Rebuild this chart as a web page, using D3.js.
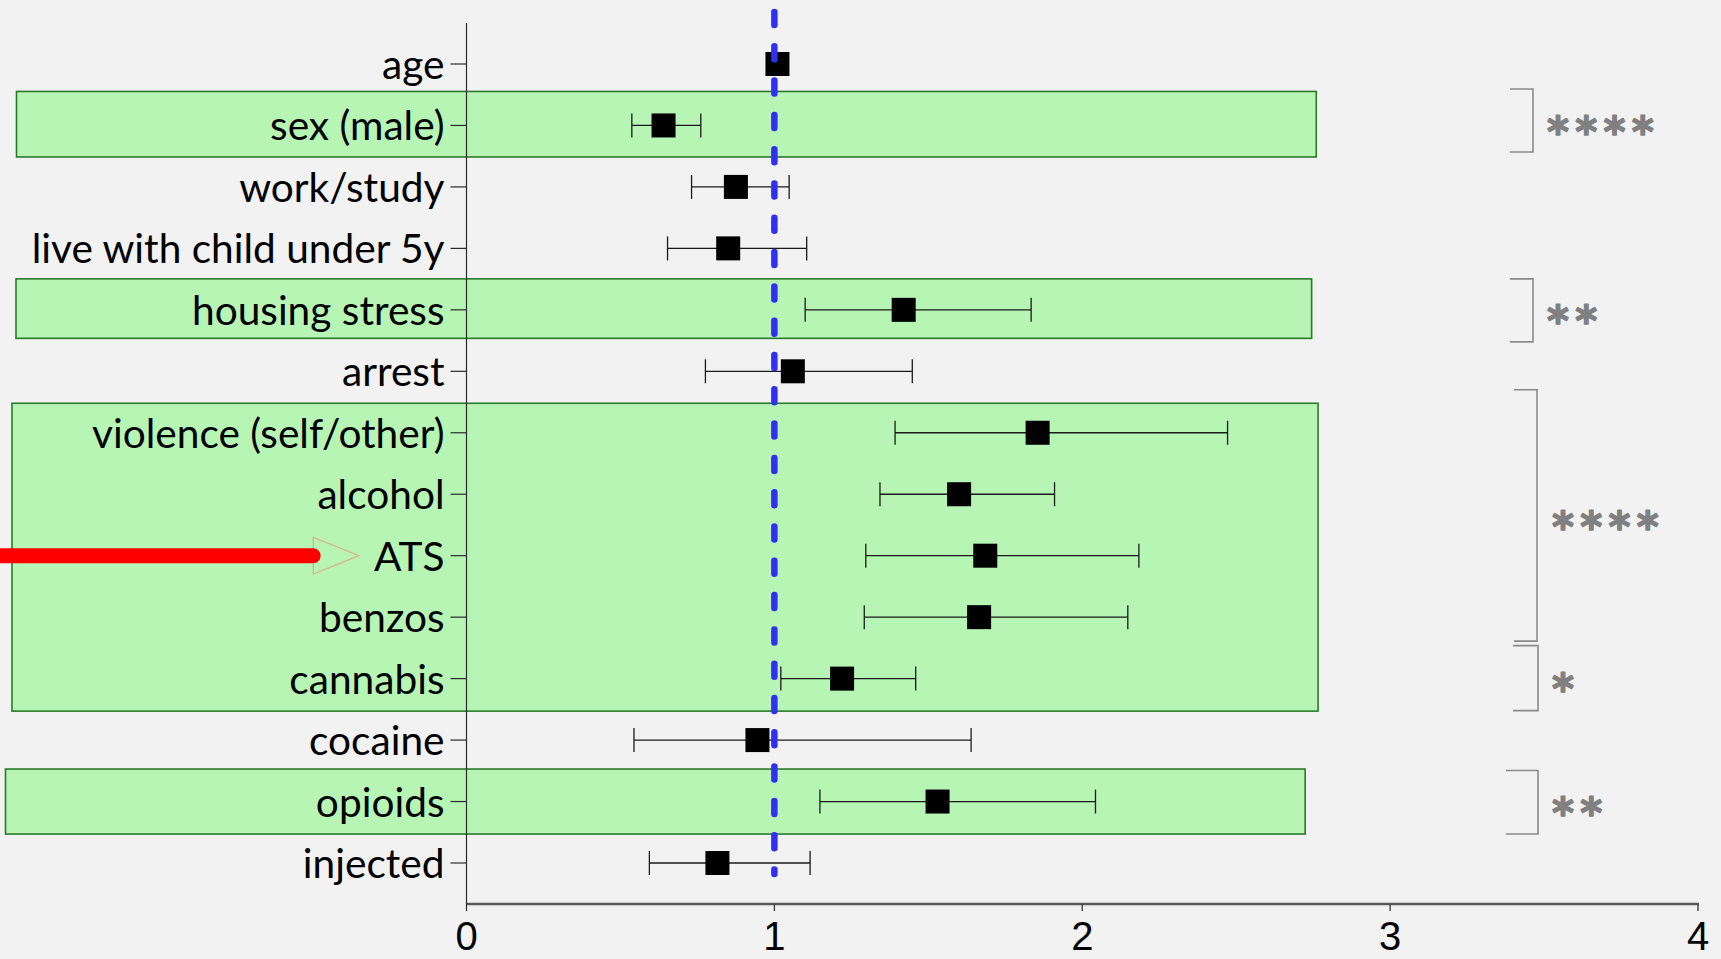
<!DOCTYPE html>
<html>
<head>
<meta charset="utf-8">
<script src="https://cdn.jsdelivr.net/npm/d3@7"></script>
<style>
  html, body { margin: 0; padding: 0; background: #f2f2f2; overflow: hidden; }
  svg { display: block; }
</style>
</head>
<body>
<svg id="chart" width="1721" height="959"></svg>
<script>
// Predictors (top to bottom) with odds ratios and 95% confidence limits
const categories = ["age", "sex (male)", "work/study", "live with child under 5y",
  "housing stress", "arrest", "violence (self/other)", "alcohol", "ATS", "benzos",
  "cannabis", "cocaine", "opioids", "injected"];
const estimates = [1.01, 0.64, 0.875, 0.85, 1.42, 1.06, 1.855, 1.60, 1.685, 1.665, 1.22, 0.945, 1.53, 0.815];
const lower     = [0.99, 0.537, 0.731, 0.653, 1.100, 0.776, 1.392, 1.343, 1.297, 1.292, 1.021, 0.544, 1.148, 0.594];
const upper     = [1.03, 0.761, 1.048, 1.105, 1.834, 1.448, 2.472, 1.910, 2.184, 2.148, 1.459, 1.639, 2.043, 1.116];

const xTicks = [0, 1, 2, 3, 4];
const referenceValue = 1;

// Highlighted predictor blocks
const highlightFrom = ["sex (male)", "housing stress", "violence (self/other)", "opioids"];
const highlightTo   = ["sex (male)", "housing stress", "cannabis", "opioids"];

// Significance brackets
const bracketFrom  = ["sex (male)", "housing stress", "violence (self/other)", "cannabis", "opioids"];
const bracketTo    = ["sex (male)", "housing stress", "benzos", "cannabis", "opioids"];
const bracketStars = ["****", "**", "****", "*", "**"];

// Row pointed at by the arrow
const arrowRow = "ATS";

// ---- layout ----
const svg = d3.select("#chart");
const axisLeft = 466.5, axisRight = 1698, axisY = 904, axisTop = 23;

const x = d3.scaleLinear().domain([0, 4]).range([axisLeft, axisRight]);
const y = d3.scalePoint().domain(categories).range([64, 863]);

// box geometry: left edge (px), right edge (axis units), padding above/below row centres
const boxLayout = [
  { left: 16.5, right: 2.760, padTop: 34, padBottom: 31.5 },
  { left: 16,   right: 2.745, padTop: 31, padBottom: 28.5 },
  { left: 12,   right: 2.766, padTop: 29.5, padBottom: 32.5 },
  { left: 5.5,  right: 2.724, padTop: 32.5, padBottom: 32.5 }
];
// bracket geometry: left/right x (px), extension above/below rows, star text start
const bracketLayout = [
  { x0: 1510, x1: 1533, up: 36.5, down: 26.5, starX: 1547 },
  { x0: 1510, x1: 1533, up: 31,   down: 32,   starX: 1547 },
  { x0: 1514, x1: 1537, up: 43,   down: 24,   starX: 1552 },
  { x0: 1513, x1: 1538, up: 33,   down: 32,   starX: 1552 },
  { x0: 1506, x1: 1538, up: 31,   down: 32.5, starX: 1552 }
];

// ---- highlight boxes ----
const boxes = highlightFrom.map((f, i) => ({ from: f, to: highlightTo[i], ...boxLayout[i] }));
svg.append("g").selectAll("rect").data(boxes).join("rect")
  .attr("x", d => d.left)
  .attr("y", d => y(d.from) - d.padTop)
  .attr("width", d => x(d.right) - d.left)
  .attr("height", d => y(d.to) + d.padBottom - (y(d.from) - d.padTop))
  .attr("fill", "#b6f5b4")
  .attr("stroke", "#2b7a2b")
  .attr("stroke-width", 1.6);

// ---- axes ----
const gx = svg.append("g").attr("transform", `translate(0,${axisY})`);
gx.append("line").attr("x1", axisLeft).attr("x2", axisRight + 1)
  .attr("stroke", "#595959").attr("stroke-width", 2.6);
gx.selectAll("line.tick").data(xTicks.filter(t => t > 0)).join("line")
  .attr("class", "tick")
  .attr("x1", d => x(d)).attr("x2", d => x(d)).attr("y1", 0).attr("y2", 7)
  .attr("stroke", "#444").attr("stroke-width", 1.4);
gx.selectAll("text").data(xTicks).join("text")
  .attr("x", d => x(d)).attr("y", 46)
  .attr("text-anchor", "middle")
  .attr("font-family", "'Liberation Sans', Arial, sans-serif")
  .attr("font-size", 40)
  .attr("fill", "#000")
  .text(d => d);

// y axis line and category ticks
svg.append("line").attr("x1", axisLeft).attr("x2", axisLeft)
  .attr("y1", axisTop).attr("y2", axisY + 7)
  .attr("stroke", "#2a2a2a").attr("stroke-width", 1.2);
svg.append("g").selectAll("line").data(categories).join("line")
  .attr("x1", axisLeft - 16).attr("x2", axisLeft)
  .attr("y1", d => y(d)).attr("y2", d => y(d))
  .attr("stroke", "#2a2a2a").attr("stroke-width", 1.2);

const labels = svg.append("g").selectAll("text").data(categories).join("text")
  .attr("x", axisLeft - 22)
  .attr("y", d => y(d) + 15)
  .attr("text-anchor", "end")
  .attr("font-family", "Lato, 'Open Sans', sans-serif")
  .attr("font-size", 44)
  .attr("fill", "#000")
  .text(d => d);
// size the labels so the longest one spans the available width
const widest = d3.max(labels.nodes(), n => n.getComputedTextLength());
labels.attr("font-size", 44 * 413 / widest);

// ---- error bars and point estimates ----
const rows = categories.map((c, i) => ({ c, est: estimates[i], lo: lower[i], hi: upper[i] }));
const capH = 24, markerSize = 24;
const gBars = svg.append("g").attr("stroke", "#1a1a1a").attr("stroke-width", 1.3);
gBars.selectAll("line.ci").data(rows).join("line").attr("class", "ci")
  .attr("x1", d => x(d.lo)).attr("x2", d => x(d.hi))
  .attr("y1", d => y(d.c)).attr("y2", d => y(d.c));
gBars.selectAll("line.capL").data(rows).join("line").attr("class", "capL")
  .attr("x1", d => x(d.lo)).attr("x2", d => x(d.lo))
  .attr("y1", d => y(d.c) - capH / 2).attr("y2", d => y(d.c) + capH / 2);
gBars.selectAll("line.capR").data(rows).join("line").attr("class", "capR")
  .attr("x1", d => x(d.hi)).attr("x2", d => x(d.hi))
  .attr("y1", d => y(d.c) - capH / 2).attr("y2", d => y(d.c) + capH / 2);
svg.append("g").selectAll("rect").data(rows).join("rect")
  .attr("x", d => x(d.est) - markerSize / 2)
  .attr("y", d => y(d.c) - markerSize / 2)
  .attr("width", markerSize).attr("height", markerSize)
  .attr("fill", "#000");

// ---- reference line at OR = 1 ----
svg.append("line")
  .attr("x1", x(referenceValue)).attr("x2", x(referenceValue))
  .attr("y1", 12).attr("y2", 874)
  .attr("stroke", "#3030f0").attr("stroke-width", 6.5)
  .attr("stroke-linecap", "round")
  .attr("stroke-dasharray", "13 21.3");

// ---- significance brackets ----
const starSize = 42;
const brackets = bracketFrom.map((f, i) => ({ from: f, to: bracketTo[i], stars: bracketStars[i], ...bracketLayout[i] }));
const gBr = svg.append("g");
gBr.selectAll("path").data(brackets).join("path")
  .attr("d", d => {
    const t = y(d.from) - d.up, b = y(d.to) + d.down;
    return `M${d.x0},${t}H${d.x1}V${b}H${d.x0}`;
  })
  .attr("fill", "none").attr("stroke", "#8a8a8a").attr("stroke-width", 1.6);
gBr.selectAll("text").data(brackets).join("text")
  .attr("x", d => d.starX)
  // asterisks centred a little below the bracket midpoint
  .attr("y", d => (y(d.from) - d.up + y(d.to) + d.down) / 2 + 4.3 + 0.52 * starSize)
  .attr("font-family", "'DejaVu Sans', sans-serif")
  .attr("font-weight", "bold")
  .attr("font-size", starSize)
  .attr("letter-spacing", 6.3)
  .attr("fill", "#808080")
  .attr("stroke", "#808080")
  .attr("stroke-width", 1.4)
  .attr("stroke-linejoin", "round")
  .text(d => d.stars);

// ---- arrow pointing at a predictor ----
const ay = y(arrowRow);
svg.append("path")
  .attr("d", `M313.3,${ay - 18.3}L359,${ay}L313.3,${ay + 18.3}Z`)
  .attr("fill", "none").attr("stroke", "#d9b48e").attr("stroke-width", 1.3);
svg.append("line")
  .attr("x1", -20).attr("x2", 313.2)
  .attr("y1", ay).attr("y2", ay)
  .attr("stroke", "#ff0000").attr("stroke-width", 15)
  .attr("stroke-linecap", "round");
</script>
</body>
</html>
